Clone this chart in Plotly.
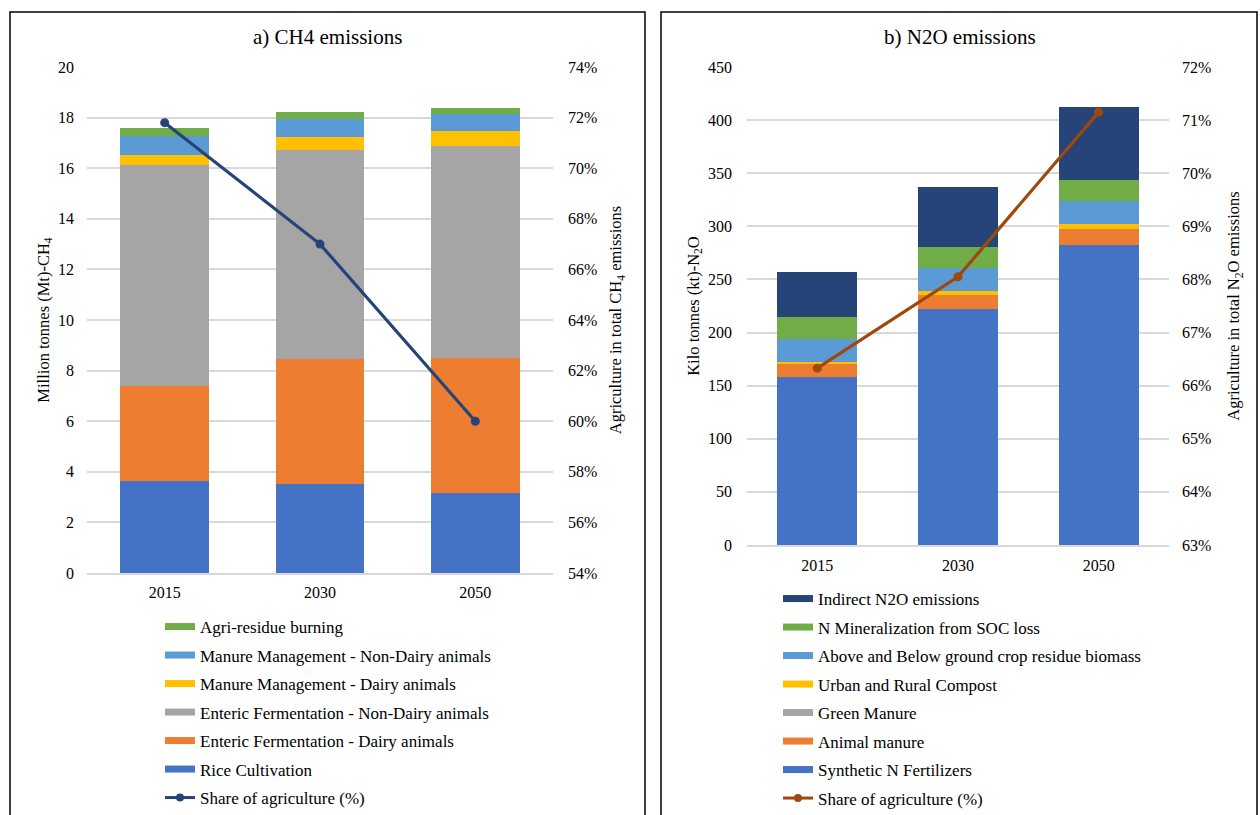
import plotly.graph_objects as go

# ---------------- data ----------------
years = ["2015", "2030", "2050"]

# a) CH4 emissions (Mt CH4), stacked from bottom
ch4_rice = [3.64, 3.53, 3.18]
ch4_enteric_dairy = [3.75, 4.92, 5.32]
ch4_enteric_nondairy = [8.73, 8.26, 8.38]
ch4_manure_dairy = [0.41, 0.54, 0.58]
ch4_manure_nondairy = [0.75, 0.68, 0.68]
ch4_residue_burning = [0.31, 0.28, 0.22]
ch4_share = [71.8, 67.0, 60.0]  # %

# b) N2O emissions (kt N2O), stacked from bottom
n2o_synthetic = [158.5, 222.4, 282.6]
n2o_animal_manure = [11.6, 13.0, 15.0]
n2o_green_manure = [0.0, 0.0, 0.0]
n2o_compost = [2.5, 3.7, 4.4]
n2o_crop_residue = [21.6, 22.0, 22.0]
n2o_soc_loss = [20.1, 19.5, 19.7]
n2o_indirect = [42.9, 56.3, 68.4]
n2o_share = [66.33, 68.05, 71.15]  # %

ch4_names = ["Rice Cultivation", "Enteric Fermentation - Dairy animals",
             "Enteric Fermentation - Non-Dairy animals", "Manure Management - Dairy animals",
             "Manure Management - Non-Dairy animals", "Agri-residue burning"]
n2o_names = ["Synthetic N Fertilizers", "Animal manure", "Green Manure",
             "Urban and Rural Compost", "Above and Below ground crop residue biomass",
             "N Mineralization from SOC loss", "Indirect N2O emissions"]
share_name = "Share of agriculture (%)"

# ---------------- style ----------------
FONT = "Liberation Serif, serif"
BLUE, ORANGE, GRAY, YELLOW = "#4472C4", "#ED7D31", "#A5A5A5", "#FFC000"
LBLUE, GREEN, NAVY, BROWN = "#5B9BD5", "#70AD47", "#264478", "#9E480E"
GRID = "#D9D9D9"
W, H = 1260, 815

def px_x(v):
    return v / W

def px_y(v):
    return (H - v) / H

ch4_series = [ch4_rice, ch4_enteric_dairy, ch4_enteric_nondairy,
              ch4_manure_dairy, ch4_manure_nondairy, ch4_residue_burning]
ch4_colors = [BLUE, ORANGE, GRAY, YELLOW, LBLUE, GREEN]
n2o_series = [n2o_synthetic, n2o_animal_manure, n2o_green_manure, n2o_compost,
              n2o_crop_residue, n2o_soc_loss, n2o_indirect]
n2o_colors = [BLUE, ORANGE, GRAY, YELLOW, LBLUE, GREEN, NAVY]

fig = go.Figure()

# ---- legend entries (wide swatches), in display order ----
for name, col in reversed(list(zip(ch4_names, ch4_colors))):
    fig.add_trace(go.Scatter(x=[None], y=[None], mode="lines", name=name,
                             line=dict(color=col, width=7), legend="legend",
                             legendgroup=name, xaxis="x", yaxis="y", hoverinfo="skip"))
fig.add_trace(go.Scatter(x=[None], y=[None], mode="lines+markers", name=share_name,
                         line=dict(color=NAVY, width=3), marker=dict(size=8, color=NAVY),
                         legend="legend", legendgroup="s1", xaxis="x", yaxis="y",
                         hoverinfo="skip"))
for name, col in reversed(list(zip(n2o_names, n2o_colors))):
    fig.add_trace(go.Scatter(x=[None], y=[None], mode="lines", name=name,
                             line=dict(color=col, width=7), legend="legend2",
                             legendgroup="b_" + name, xaxis="x2", yaxis="y3", hoverinfo="skip"))
fig.add_trace(go.Scatter(x=[None], y=[None], mode="lines+markers", name=share_name,
                         line=dict(color=BROWN, width=3), marker=dict(size=8, color=BROWN),
                         legend="legend2", legendgroup="s2", xaxis="x2", yaxis="y3",
                         hoverinfo="skip"))

# ---- bars ----
for name, vals, col in zip(ch4_names, ch4_series, ch4_colors):
    fig.add_trace(go.Bar(x=years, y=vals, name=name, marker=dict(color=col, line=dict(width=0)),
                         xaxis="x", yaxis="y", showlegend=False))
for name, vals, col in zip(n2o_names, n2o_series, n2o_colors):
    fig.add_trace(go.Bar(x=years, y=vals, name=name, marker=dict(color=col, line=dict(width=0)),
                         xaxis="x2", yaxis="y3", showlegend=False))

# ---- share lines ----
fig.add_trace(go.Scatter(x=years, y=ch4_share, mode="lines+markers", name=share_name,
                         line=dict(color=NAVY, width=3.2), marker=dict(size=9, color=NAVY),
                         xaxis="x", yaxis="y2", showlegend=False))
fig.add_trace(go.Scatter(x=years, y=n2o_share, mode="lines+markers", name=share_name,
                         line=dict(color=BROWN, width=3.2), marker=dict(size=9, color=BROWN),
                         xaxis="x2", yaxis="y4", showlegend=False))

tickfont = dict(family=FONT, size=16, color="#000")
titlefont = dict(family=FONT, size=16.5, color="#000")
legfont = dict(family=FONT, size=17, color="#000")

yL = [px_y(573), px_y(67)]
yR = [px_y(545), px_y(67)]

fig.update_layout(
    width=W, height=H,
    margin=dict(l=0, r=0, t=0, b=0, autoexpand=False),
    paper_bgcolor="white", plot_bgcolor="white",
    barmode="stack", bargap=0.43,
    font=dict(family=FONT, size=16, color="#000"),
    xaxis=dict(domain=[px_x(87), px_x(553)], type="category", categoryarray=years,
               range=[-0.5, 2.5], showgrid=False, showline=True, linecolor=GRID, linewidth=1.5,
               ticks="", tickfont=tickfont, ticklabelstandoff=4, anchor="y", fixedrange=True),
    yaxis=dict(domain=yL, range=[0, 20], dtick=2, showgrid=True, gridcolor=GRID, gridwidth=1.5,
               zeroline=False, showline=False, ticks="", tickfont=tickfont, ticklabelstandoff=12,
               title=dict(text="Million tonnes (Mt)-CH<sub>4</sub>", font=titlefont, standoff=4),
               anchor="x"),
    yaxis2=dict(overlaying="y", side="right", range=[54, 74], dtick=2, ticksuffix="%",
                showgrid=False, zeroline=False, ticks="", tickfont=tickfont, ticklabelstandoff=14,
                title=dict(text="Agriculture in total CH<sub>4</sub> emissions", font=titlefont,
                           standoff=13),
                anchor="x"),
    xaxis2=dict(domain=[px_x(747), px_x(1169)], type="category", categoryarray=years,
                range=[-0.5, 2.5], showgrid=False, showline=True, linecolor=GRID, linewidth=1.5,
                ticks="", tickfont=tickfont, ticklabelstandoff=5, anchor="y3"),
    yaxis3=dict(domain=yR, range=[0, 450], dtick=50, showgrid=True, gridcolor=GRID, gridwidth=1.5,
                zeroline=False, showline=False, ticks="", tickfont=tickfont, ticklabelstandoff=14,
                title=dict(text="Kilo tonnes (kt)-N<sub>2</sub>O", font=titlefont, standoff=4),
                anchor="x2"),
    yaxis4=dict(overlaying="y3", side="right", range=[63, 72], dtick=1, ticksuffix="%",
                showgrid=False, zeroline=False, ticks="", tickfont=tickfont, ticklabelstandoff=12,
                title=dict(text="Agriculture in total N<sub>2</sub>O emissions", font=titlefont,
                           standoff=17),
                anchor="x2"),
    legend=dict(x=px_x(160), y=px_y(609), xanchor="left", yanchor="top",
                traceorder="grouped", tracegroupgap=3.4, bgcolor="rgba(0,0,0,0)",
                font=legfont, itemclick=False),
    legend2=dict(x=px_x(778), y=px_y(581), xanchor="left", yanchor="top",
                 traceorder="grouped", tracegroupgap=3.4, bgcolor="rgba(0,0,0,0)",
                 font=legfont, itemclick=False),
    annotations=[
        dict(text="a) CH4 emissions", x=px_x(327), y=px_y(37), xref="paper", yref="paper",
             xanchor="center", yanchor="middle", showarrow=False,
             font=dict(family=FONT, size=21, color="#000")),
        dict(text="b) N2O emissions", x=px_x(960), y=px_y(37), xref="paper", yref="paper",
             xanchor="center", yanchor="middle", showarrow=False,
             font=dict(family=FONT, size=21, color="#000")),
    ],
    shapes=[
        dict(type="rect", xref="paper", yref="paper", x0=px_x(10), x1=px_x(645),
             y0=-0.02, y1=px_y(12), line=dict(color="black", width=1.5)),
        dict(type="rect", xref="paper", yref="paper", x0=px_x(661), x1=px_x(1257),
             y0=-0.02, y1=px_y(12), line=dict(color="black", width=1.5)),
    ],
)

fig.write_html("out.html")
